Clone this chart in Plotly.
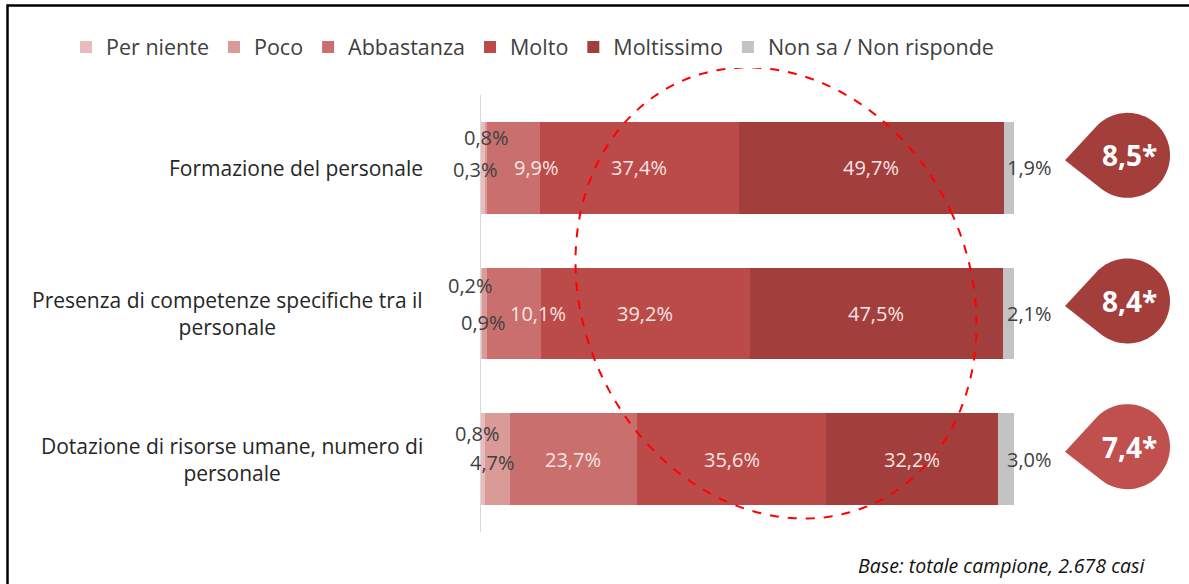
import numpy as np
import plotly.graph_objects as go

# ---------------- data ----------------
categories = [
    "Formazione del personale",
    "Presenza di competenze specifiche tra il personale",
    "Dotazione di risorse umane, numero di personale",
]
category_labels = [
    "Formazione del personale",
    "Presenza di competenze specifiche tra il<br>personale",
    "Dotazione di risorse umane, numero di<br>personale",
]
series_names = ["Per niente", "Poco", "Abbastanza", "Molto", "Moltissimo", "Non sa / Non risponde"]
per_niente = [0.8, 0.2, 0.8]
poco = [0.3, 0.9, 4.7]
abbastanza = [9.9, 10.1, 23.7]
molto = [37.4, 39.2, 35.6]
moltissimo = [49.7, 47.5, 32.2]
non_sa = [1.9, 2.1, 3.0]
scores = [8.5, 8.4, 7.4]
footer = "Base: totale campione, 2.678 casi"

# ---------------- style ----------------
colors = ["#e8bcbc", "#d99a98", "#c96f6e", "#bb4b48", "#a23f3c", "#c3c3c3"]
badge_colors = ["#a33e3b", "#a33e3b", "#c0504d"]
FONT = "Open Sans"
W_FIG, H_FIG = 1189, 584
L, R, T, B = 481, 1014, 95, 532
PW, PH = R - L, B - T


def px(xp):
    return (xp - L) / PW


def py(yp):
    return (B - yp) / PH


def fmt(v):
    return f"{v:.1f}".replace(".", ",") + "%"


series = [per_niente, poco, abbastanza, molto, moltissimo, non_sa]

fig = go.Figure()
for name, vals, col in zip(series_names, series, colors):
    fig.add_trace(go.Bar(
        y=categories, x=vals, name=name, orientation="h",
        marker=dict(color=col, line=dict(width=0)),
        hoverinfo="x+name",
    ))

annotations = []
shapes = []

# category labels
for cat, lab in zip(categories, category_labels):
    annotations.append(dict(
        x=px(425), xref="paper", y=cat, yref="y", text=lab, showarrow=False,
        xanchor="right", yanchor="middle", align="center",
        font=dict(family=FONT, size=21, color="#262626"),
    ))

# per-row fine placement of the small outside labels (pixels)
pn_shift = [(30, 30), (14, 28), (21, 26)]     # (xshift right edge from bar start, up)
poco_shift = [(19, -2), (27, -9), (36, -3)]

LBL = 20
inner_col = "#f7e4e3"
dark_col = "#404040"
for i, cat in enumerate(categories):
    cum = np.cumsum([s[i] for s in series])
    starts = cum - np.array([s[i] for s in series])
    annotations.append(dict(
        x=0, y=cat, xref="x", yref="y", text=fmt(per_niente[i]), showarrow=False,
        xanchor="right", yanchor="middle", xshift=pn_shift[i][0], yshift=pn_shift[i][1],
        font=dict(family=FONT, size=LBL, color=dark_col),
    ))
    annotations.append(dict(
        x=0, y=cat, xref="x", yref="y", text=fmt(poco[i]), showarrow=False,
        xanchor="right", yanchor="middle", xshift=poco_shift[i][0], yshift=poco_shift[i][1],
        font=dict(family=FONT, size=LBL, color=dark_col),
    ))
    for k in (2, 3, 4):
        v = series[k][i]
        if v < 15:
            xpos, xs = cum[k], -3
        else:
            xpos, xs = (starts[k] + cum[k]) / 2, 0
        annotations.append(dict(
            x=xpos, y=cat, xref="x", yref="y", text=fmt(v), showarrow=False,
            xanchor="center", yanchor="middle", xshift=xs,
            font=dict(family=FONT, size=LBL, color=inner_col),
        ))
    annotations.append(dict(
        x=100, y=cat, xref="x", yref="y", text=fmt(non_sa[i]), showarrow=False,
        xanchor="left", yanchor="middle", xshift=-9,
        font=dict(family=FONT, size=LBL, color=dark_col),
    ))

    # badge (teardrop pointing left)
    row_c = T + (i + 0.5) * PH / 3
    cx, cy, r = 1127.5, row_c - 12.5, 42.5
    tipx, tipy = cx - 62.5, cy + 5
    d = np.hypot(cx - tipx, cy - tipy)
    base_ang = np.arctan2(tipy - cy, tipx - cx)
    half = np.arccos(r / d)
    a0 = base_ang + half
    a1 = base_ang - half + 2 * np.pi
    ts = np.linspace(a0, a1, 80)
    pts = [(tipx, tipy)] + [(cx + r * np.cos(t), cy + r * np.sin(t)) for t in ts]
    path = "M " + " L ".join(f"{px(x):.5f},{py(y):.5f}" for x, y in pts) + " Z"
    shapes.append(dict(type="path", path=path, xref="paper", yref="paper",
                       fillcolor=badge_colors[i], line=dict(width=0), layer="above"))
    annotations.append(dict(
        x=px(cx + 2), y=py(cy), xref="paper", yref="paper",
        text=f"<b>{scores[i]:.1f}*</b>".replace(".", ","), showarrow=False,
        xanchor="center", yanchor="middle",
        font=dict(family=FONT, size=28, color="white"),
    ))

# dashed ellipse
ecx, ecy, ea, eb, th = 776, 293, 193, 232, np.deg2rad(-25)
tt = np.linspace(0, 2 * np.pi, 200)
ex = ecx + ea * np.cos(tt) * np.cos(th) - eb * np.sin(tt) * np.sin(th)
ey = ecy + ea * np.cos(tt) * np.sin(th) + eb * np.sin(tt) * np.cos(th)
epath = "M " + " L ".join(f"{px(x):.5f},{py(y):.5f}" for x, y in zip(ex, ey)) + " Z"
shapes.append(dict(type="path", path=epath, xref="paper", yref="paper",
                   line=dict(color="#ff0000", width=2, dash="dash"), layer="above"))

# frame lines
shapes.append(dict(type="line", xref="paper", yref="paper",
                   x0=px(7), y0=py(5.5), x1=px(1189), y1=py(5.5),
                   line=dict(color="black", width=2.5)))
shapes.append(dict(type="line", xref="paper", yref="paper",
                   x0=px(7.5), y0=py(4.5), x1=px(7.5), y1=py(584),
                   line=dict(color="black", width=2.5)))

annotations.append(dict(
    x=px(1147), y=py(565), xref="paper", yref="paper", text=f"<i>{footer}</i>",
    showarrow=False, xanchor="right", yanchor="middle",
    font=dict(family=FONT, size=19.5, color="#111111"),
))

fig.update_layout(
    width=W_FIG, height=H_FIG,
    margin=dict(l=L, r=W_FIG - R, t=T, b=H_FIG - B, pad=0),
    barmode="stack", bargap=0.37,
    plot_bgcolor="white", paper_bgcolor="white",
    showlegend=True,
    legend=dict(orientation="h", x=px(66), xanchor="left", y=py(47), yanchor="middle",
                font=dict(family=FONT, size=21.5, color="#404040"),
                traceorder="normal", itemclick=False, itemdoubleclick=False),
    xaxis=dict(range=[0, 100], visible=False, fixedrange=True),
    yaxis=dict(categoryorder="array", categoryarray=categories, range=[2.5, -0.5],
               showticklabels=False, ticks="", showgrid=False, zeroline=False,
               showline=True, linecolor="#d9d9d9", linewidth=1, fixedrange=True),
    annotations=annotations, shapes=shapes,
)

fig.write_html("out.html", config={"displayModeBar": False},
               post_script="document.body.style.margin='0';document.body.style.padding='0';")
